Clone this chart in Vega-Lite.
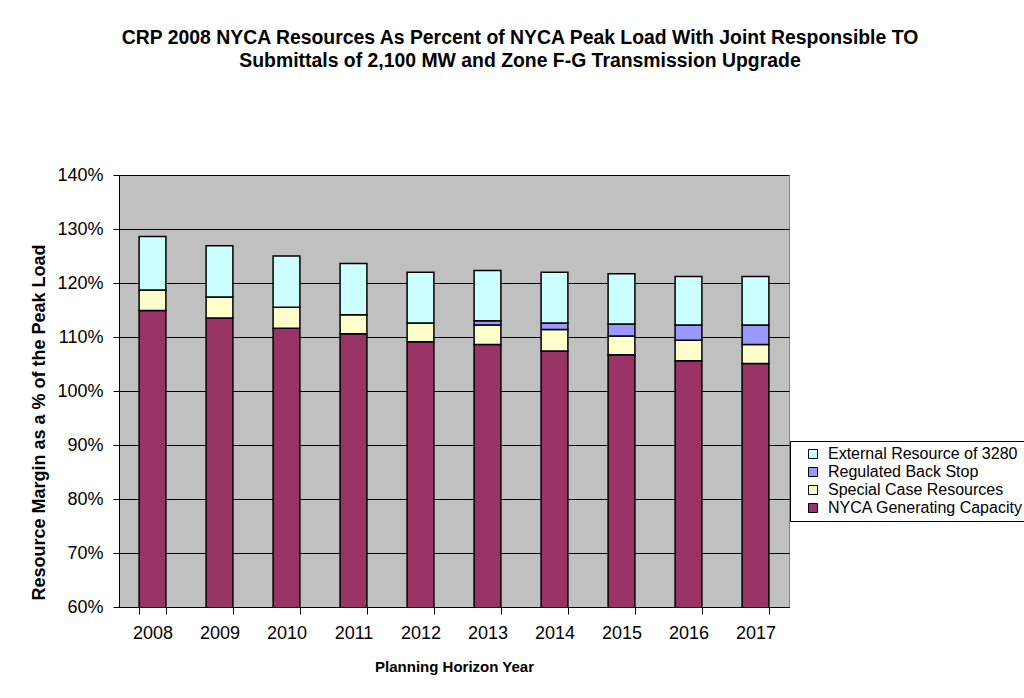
{
  "$schema": "https://vega.github.io/schema/vega-lite/v6.json",
  "width": 670,
  "height": 432,
  "autosize": {"type": "none"},
  "padding": {"left": 119, "top": 175, "right": 235, "bottom": 91},
  "background": "white",
  "title": {
    "text": ["CRP 2008 NYCA Resources As Percent of NYCA Peak Load With Joint Responsible TO", "Submittals of 2,100 MW and Zone F-G Transmission Upgrade"],
    "anchor": "middle",
    "frame": "group",
    "dx": 66,
    "offset": 95,
    "font": "Liberation Sans",
    "fontSize": 19.4,
    "fontWeight": "bold",
    "lineHeight": 23,
    "color": "black"
  },
  "data": {
    "values": [
      {"year": "2008", "series": "NYCA Generating Capacity", "rank": 1, "value": 1.149},
      {"year": "2008", "series": "Special Case Resources", "rank": 2, "value": 0.038},
      {"year": "2008", "series": "External Resource of 3280", "rank": 4, "value": 0.099},
      {"year": "2009", "series": "NYCA Generating Capacity", "rank": 1, "value": 1.135},
      {"year": "2009", "series": "Special Case Resources", "rank": 2, "value": 0.039},
      {"year": "2009", "series": "External Resource of 3280", "rank": 4, "value": 0.095},
      {"year": "2010", "series": "NYCA Generating Capacity", "rank": 1, "value": 1.116},
      {"year": "2010", "series": "Special Case Resources", "rank": 2, "value": 0.039},
      {"year": "2010", "series": "External Resource of 3280", "rank": 4, "value": 0.095},
      {"year": "2011", "series": "NYCA Generating Capacity", "rank": 1, "value": 1.106},
      {"year": "2011", "series": "Special Case Resources", "rank": 2, "value": 0.035},
      {"year": "2011", "series": "External Resource of 3280", "rank": 4, "value": 0.095},
      {"year": "2012", "series": "NYCA Generating Capacity", "rank": 1, "value": 1.091},
      {"year": "2012", "series": "Special Case Resources", "rank": 2, "value": 0.035},
      {"year": "2012", "series": "External Resource of 3280", "rank": 4, "value": 0.094},
      {"year": "2013", "series": "NYCA Generating Capacity", "rank": 1, "value": 1.086},
      {"year": "2013", "series": "Special Case Resources", "rank": 2, "value": 0.036},
      {"year": "2013", "series": "Regulated Back Stop", "rank": 3, "value": 0.008},
      {"year": "2013", "series": "External Resource of 3280", "rank": 4, "value": 0.093},
      {"year": "2014", "series": "NYCA Generating Capacity", "rank": 1, "value": 1.074},
      {"year": "2014", "series": "Special Case Resources", "rank": 2, "value": 0.040},
      {"year": "2014", "series": "Regulated Back Stop", "rank": 3, "value": 0.012},
      {"year": "2014", "series": "External Resource of 3280", "rank": 4, "value": 0.094},
      {"year": "2015", "series": "NYCA Generating Capacity", "rank": 1, "value": 1.067},
      {"year": "2015", "series": "Special Case Resources", "rank": 2, "value": 0.035},
      {"year": "2015", "series": "Regulated Back Stop", "rank": 3, "value": 0.022},
      {"year": "2015", "series": "External Resource of 3280", "rank": 4, "value": 0.093},
      {"year": "2016", "series": "NYCA Generating Capacity", "rank": 1, "value": 1.056},
      {"year": "2016", "series": "Special Case Resources", "rank": 2, "value": 0.038},
      {"year": "2016", "series": "Regulated Back Stop", "rank": 3, "value": 0.028},
      {"year": "2016", "series": "External Resource of 3280", "rank": 4, "value": 0.090},
      {"year": "2017", "series": "NYCA Generating Capacity", "rank": 1, "value": 1.051},
      {"year": "2017", "series": "Special Case Resources", "rank": 2, "value": 0.035},
      {"year": "2017", "series": "Regulated Back Stop", "rank": 3, "value": 0.036},
      {"year": "2017", "series": "External Resource of 3280", "rank": 4, "value": 0.090}
    ]
  },
  "mark": {"type": "bar", "clip": true, "stroke": "black", "strokeWidth": 1.5},
  "encoding": {
    "x": {
      "field": "year",
      "type": "ordinal",
      "scale": {"paddingInner": 0.6, "paddingOuter": 0.3},
      "axis": {
        "title": "Planning Horizon Year",
        "titleFont": "Liberation Sans",
        "titleFontSize": 15,
        "titleFontWeight": "bold",
        "titleColor": "black",
        "titlePadding": 17,
        "labelFont": "Liberation Sans",
        "labelFontSize": 18,
        "labelColor": "black",
        "labelAngle": 0,
        "labelPadding": 10,
        "tickBand": "extent",
        "tickColor": "black",
        "tickSize": 7,
        "domainColor": "black",
        "grid": false
      }
    },
    "y": {
      "field": "value",
      "type": "quantitative",
      "stack": "zero",
      "scale": {"domain": [0.6, 1.4], "zero": false, "nice": false},
      "axis": {
        "title": "Resource Margin as a % of the Peak Load",
        "titleFont": "Liberation Sans",
        "titleFontSize": 18,
        "titleFontWeight": "bold",
        "titleColor": "black",
        "titlePadding": 8,
        "titleY": 247,
        "format": ".0%",
        "values": [0.6, 0.7, 0.8, 0.9, 1.0, 1.1, 1.2, 1.3, 1.4],
        "labelFont": "Liberation Sans",
        "labelFontSize": 18,
        "labelColor": "black",
        "labelPadding": 10,
        "tickColor": "black",
        "tickSize": 6,
        "domainColor": "black",
        "grid": true,
        "gridColor": "black",
        "gridWidth": 1,
        "gridOpacity": 1
      }
    },
    "order": {"field": "rank", "type": "quantitative", "sort": "ascending"},
    "color": {
      "field": "series",
      "type": "nominal",
      "scale": {
        "domain": ["External Resource of 3280", "Regulated Back Stop", "Special Case Resources", "NYCA Generating Capacity"],
        "range": ["#CCFFFF", "#9999FF", "#FFFFCC", "#993366"]
      },
      "legend": {
        "title": null,
        "orient": "none",
        "legendX": 671,
        "legendY": 266,
        "symbolType": "square",
        "symbolSize": 81,
        "symbolStrokeColor": "black",
        "symbolStrokeWidth": 1,
        "symbolOffset": 10,
        "labelFont": "Liberation Sans",
        "labelFontSize": 16,
        "labelColor": "black",
        "labelOffset": 7,
        "labelLimit": 400,
        "rowPadding": 2,
        "strokeColor": "black",
        "fillColor": "white",
        "padding": 5
      }
    }
  },
  "config": {
    "view": {"fill": "#C0C0C0", "stroke": "#808080", "strokeWidth": 1}
  }
}
